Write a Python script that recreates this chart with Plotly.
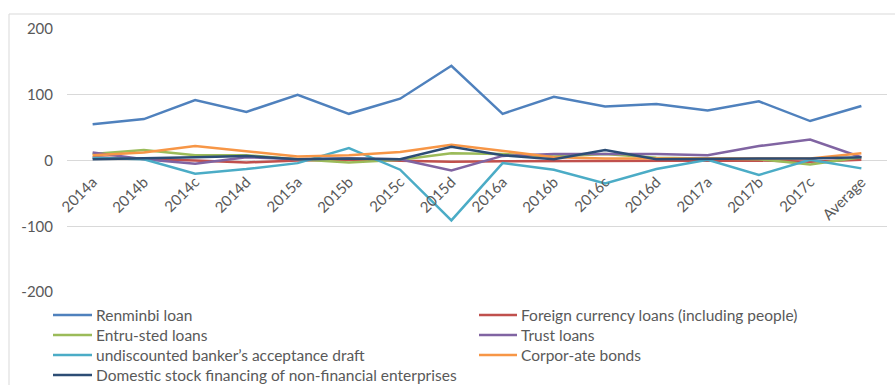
import plotly.graph_objects as go

# Quarterly categories plus the average column
categories = ["2014a", "2014b", "2014c", "2014d", "2015a", "2015b", "2015c", "2015d",
              "2016a", "2016b", "2016c", "2016d", "2017a", "2017b", "2017c", "Average"]

renminbi_loan = [55, 63, 92, 74, 100, 71, 94, 144, 71, 97, 82, 86, 76, 90, 60, 83]
foreign_currency = [5, 3, 0, -3, 0, 1, 0, -2, -1, -1, -1, 0, 0, 0, -2, 1]
entrusted_loans = [10, 16, 8, 8, 2, -3, 1, 11, 10, 6, 10, 4, 3, 2, -6, 5]
trust_loans = [12, 2, -5, 5, 2, 3, 2, -15, 7, 10, 10, 10, 8, 22, 32, 5]
acceptance_draft = [4, 2, -20, -13, -4, 19, -14, -91, -4, -14, -35, -13, 1, -22, 1, -12]
corporate_bonds = [8, 12, 22, 14, 6, 8, 13, 24, 15, 5, 3, 3, 3, 4, 3, 11]
stock_financing = [2, 3, 5, 7, 2, 3, 2, 21, 8, 2, 16, 2, 3, 3, 3, 5]

series_names = ["Renminbi loan", "Foreign currency loans (including people)", "Entru-sted loans",
                "Trust loans", "undiscounted banker\u2019s acceptance draft", "Corpor-ate bonds",
                "Domestic stock financing of non-financial enterprises"]
series_values = [renminbi_loan, foreign_currency, entrusted_loans, trust_loans,
                 acceptance_draft, corporate_bonds, stock_financing]
series_colors = ["#4F81BD", "#C0504D", "#9BBB59", "#8064A2", "#4BACC6", "#F79646", "#2C4D75"]

y_ticks = [200, 100, 0, -100, -200]

FONT = "Lato"
TEXT_COLOR = "#595959"
W, H = 895, 385
M_L, M_R, M_T, M_B = 67, 8, 29, 93
PLOT_W = W - M_L - M_R
PLOT_H = H - M_T - M_B


def px_to_paper_x(px):
    return (px - M_L) / PLOT_W


def px_to_paper_y(py):
    return (H - M_B - py) / PLOT_H


fig = go.Figure()
for name, vals, col in zip(series_names, series_values, series_colors):
    fig.add_trace(go.Scatter(x=categories, y=vals, mode="lines", name=name,
                             line=dict(color=col, width=2.5), showlegend=False))

# Two-column legend below the plot
shapes = []
annotations = []
col_x = [(53, 92, 94), (479, 517, 519)]
row_y = [315, 335, 355, 375]
for i, (name, col) in enumerate(zip(series_names, series_colors)):
    x0, x1, tx = col_x[i % 2]
    y = row_y[i // 2]
    shapes.append(dict(type="line", xref="paper", yref="paper",
                       x0=px_to_paper_x(x0), x1=px_to_paper_x(x1),
                       y0=px_to_paper_y(y), y1=px_to_paper_y(y),
                       line=dict(color=col, width=2.5)))
    annotations.append(dict(text=name, xref="paper", yref="paper",
                            x=px_to_paper_x(tx), y=px_to_paper_y(y),
                            xanchor="left", yanchor="middle", showarrow=False,
                            font=dict(family=FONT, size=15.5, color=TEXT_COLOR)))

# Chart frame
shapes.append(dict(type="rect", xref="paper", yref="paper",
                   x0=px_to_paper_x(9), x1=px_to_paper_x(W + 5),
                   y0=px_to_paper_y(H + 5), y1=px_to_paper_y(14),
                   line=dict(color="#D9D9D9", width=1), layer="below"))

fig.update_layout(
    width=W, height=H,
    margin=dict(l=M_L, r=M_R, t=M_T, b=M_B),
    paper_bgcolor="white", plot_bgcolor="white",
    font=dict(family=FONT, size=15, color=TEXT_COLOR),
    shapes=shapes, annotations=annotations,
    xaxis=dict(type="category", categoryorder="array", categoryarray=categories,
               range=[-0.5, len(categories) - 0.5],
               anchor="free", position=px_to_paper_y(160.5),
               showgrid=False, showline=False, zeroline=False, ticks="",
               tickangle=-45, ticklabelstandoff=9,
               tickfont=dict(family=FONT, size=15, color=TEXT_COLOR)),
    yaxis=dict(range=[-200, 200], tickvals=y_ticks, ticktext=[str(v) for v in y_ticks],
               showgrid=True, gridcolor="#D9D9D9", gridwidth=1,
               zeroline=False, showline=False, ticks="", ticklabelstandoff=13,
               tickfont=dict(family=FONT, size=15, color=TEXT_COLOR)),
)

fig.write_html("out.html")
